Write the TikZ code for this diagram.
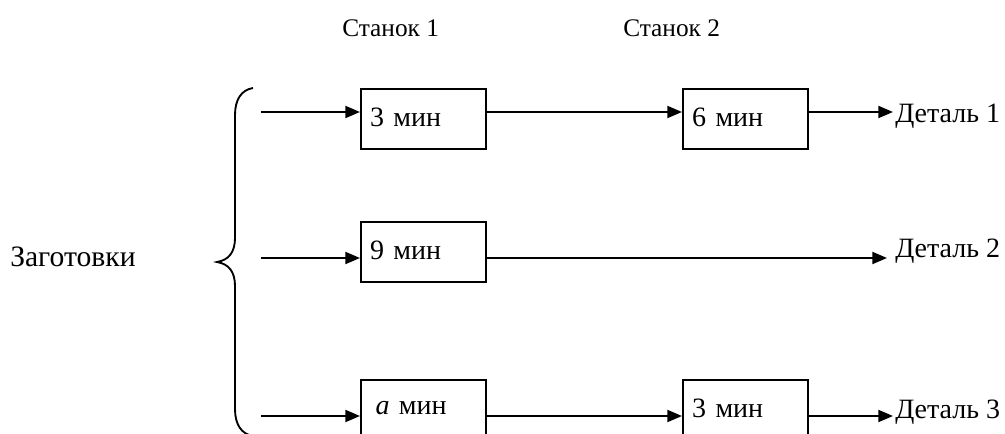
\documentclass[tikz,border=0pt]{standalone}
\usepackage{fontspec}
\setmainfont{Liberation Serif}
\usetikzlibrary{arrows.meta}
\begin{document}
\begin{tikzpicture}[x=0.75pt,y=-0.75pt,
  every node/.style={font=\fontsize{21}{25}\selectfont},
  box/.style={draw,line width=1.5pt,minimum width=93.75pt,minimum height=45pt,
    text width=80pt,align=left,inner xsep=6pt,text depth=0.25em,anchor=north west},
  lbl/.style={anchor=base west,inner sep=0pt},
  conn/.style={line width=1.5pt,-{Triangle[length=11pt,width=9pt]}}]
\useasboundingbox (0,0) rectangle (1005,434);
% headers
\node[lbl,font=\fontsize{19}{23}\selectfont] (h1) at (342,37) {Станок 1};
\node[lbl,font=\fontsize{19}{23}\selectfont] (h2) at (623,37) {Станок 2};
\node[lbl,font=\fontsize{22.2}{26}\selectfont] (zag) at (10,267) {Заготовки};
% brace
\draw[line width=1.4pt] (253,88) .. controls (241,90) and (235,100) .. (235,115)
  -- (235,238) .. controls (235,252) and (229,260) .. (217,262)
  .. controls (229,264) and (235,272) .. (235,286)
  -- (235,409) .. controls (235,424) and (241,434) .. (253,436);
% row 1
\node[box] (b1) at (360,88) {3 мин};
\node[box] (b2) at (682,88) {6 мин};
\coordinate (s1) at (261,112);
\coordinate (e1) at (893,112);
\node[lbl] (d1) at (895,123) {Деталь 1};
\draw[conn] (s1) -- (b1.west |- s1);
\draw[conn] (b1.east |- s1) -- (b2.west |- s1);
\draw[conn] (b2.east |- s1) -- (e1);
% row 2
\node[box] (b3) at (360,221) {9 мин};
\coordinate (s2) at (261,258);
\coordinate (e2) at (887,258);
\node[lbl] (d2) at (895,258) {Деталь 2};
\draw[conn] (s2) -- (b3.west |- s2);
\draw[conn] (b3.east |- s2) -- (e2);
% row 3
\node[box] (b4) at (360,379) {\hspace{4pt}\textit{a} мин};
\node[box] (b5) at (682,379) {3 мин};
\coordinate (s3) at (261,416);
\coordinate (e3) at (893,416);
\node[lbl] (d3) at (895,418) {Деталь 3};
\draw[conn] (s3) -- (b4.west |- s3);
\draw[conn] (b4.east |- s3) -- (b5.west |- s3);
\draw[conn] (b5.east |- s3) -- (e3);
\end{tikzpicture}
\end{document}
